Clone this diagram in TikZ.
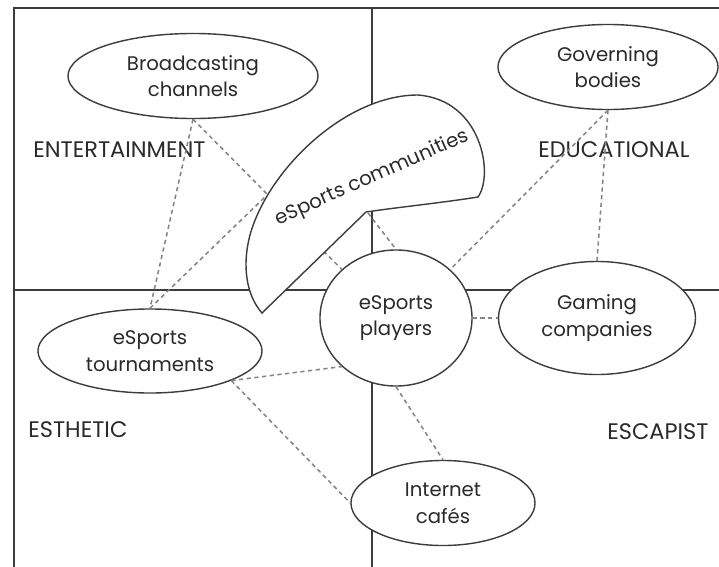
\documentclass[tikz,border=0pt]{standalone}
\usepackage{fontspec}
\setmainfont{Poppins}
\usetikzlibrary{shapes.geometric}
\definecolor{FrameGray}{HTML}{3C3C3C}
\definecolor{LinkGray}{HTML}{858585}
\definecolor{InkGray}{HTML}{2A2A2A}

\begin{document}
\begin{tikzpicture}[x=0.025cm,y=-0.025cm,
  oval/.style={ellipse,draw=FrameGray,line width=1pt,fill=white,align=center,inner sep=0pt,text=InkGray},
  link/.style={draw=LinkGray,line width=1.1pt,dash pattern=on 3pt off 2.5pt},
  quadrant/.style={anchor=west,inner sep=0pt,text=InkGray,font=\fontsize{16}{19}\selectfont},
  font=\fontsize{14}{19}\selectfont]
\useasboundingbox (0,0) rectangle (719,567);
\draw[FrameGray,line width=1.5pt] (719,8) -- (14,8) -- (14,567);
\draw[FrameGray,line width=1.5pt] (372,8) -- (372,567);
\draw[FrameGray,line width=1.5pt] (14,290) -- (719,290);

\node[quadrant] (ent) at (33,150) {ENTERTAINMENT};
\node[quadrant] (edu) at (538,150) {EDUCATIONAL};
\node[quadrant] (est) at (28,430) {ESTHETIC};
\node[quadrant] (esc) at (607,432) {ESCAPIST};

\node[oval,minimum width=6.25cm,minimum height=2.125cm] (broad) at (193,76) {Broadcasting\\channels};
\node[oval,minimum width=5.5cm,minimum height=2.125cm] (gov) at (608,67) {Governing\\bodies};
\node[oval,minimum width=5.6cm,minimum height=2.1cm] (tour) at (150,351) {eSports\\tournaments};
\node[oval,minimum width=3.8cm,minimum height=3.4cm] (players) at (396,318) {eSports\\players};
\node[oval,minimum width=4.925cm,minimum height=2.825cm] (gaming) at (597,318) {Gaming\\companies};
\node[oval,minimum width=4.6cm,minimum height=2.125cm] (cafe) at (443,503) {Internet\\cafés};
\coordinate (commW) at (266,196);
\coordinate (commS) at (368,213);

\draw[link] (broad.south) -- (tour.north);
\draw[link] (broad.south) -- (players.north west);
\draw[link] (tour.north) -- (commW);
\draw[link] (commS) -- (players.north);
\draw[link] (gov.south) -- (players.north east);
\draw[link] (gov.south) -- (gaming.north);
\draw[link] (players.east) -- (gaming.west);
\draw[link] (tour.-20) -- (players.south west);
\draw[link] (tour.-20) -- (cafe.west);
\draw[link] (players.south) -- (cafe.north);

\draw[FrameGray,line width=1pt,fill=white] (262,313) -- (366,212)
  .. controls (400,207) and (440,203) .. (478,197)
  .. controls (494,175) and (482,100) .. (418,95)
  .. controls (345,95) and (268,170) .. (250,235)
  .. controls (242,265) and (246,295) .. (262,313) -- cycle;
\node[rotate=24,text=InkGray] (comm) at (372,178) {eSports communities};
\end{tikzpicture}
\end{document}
